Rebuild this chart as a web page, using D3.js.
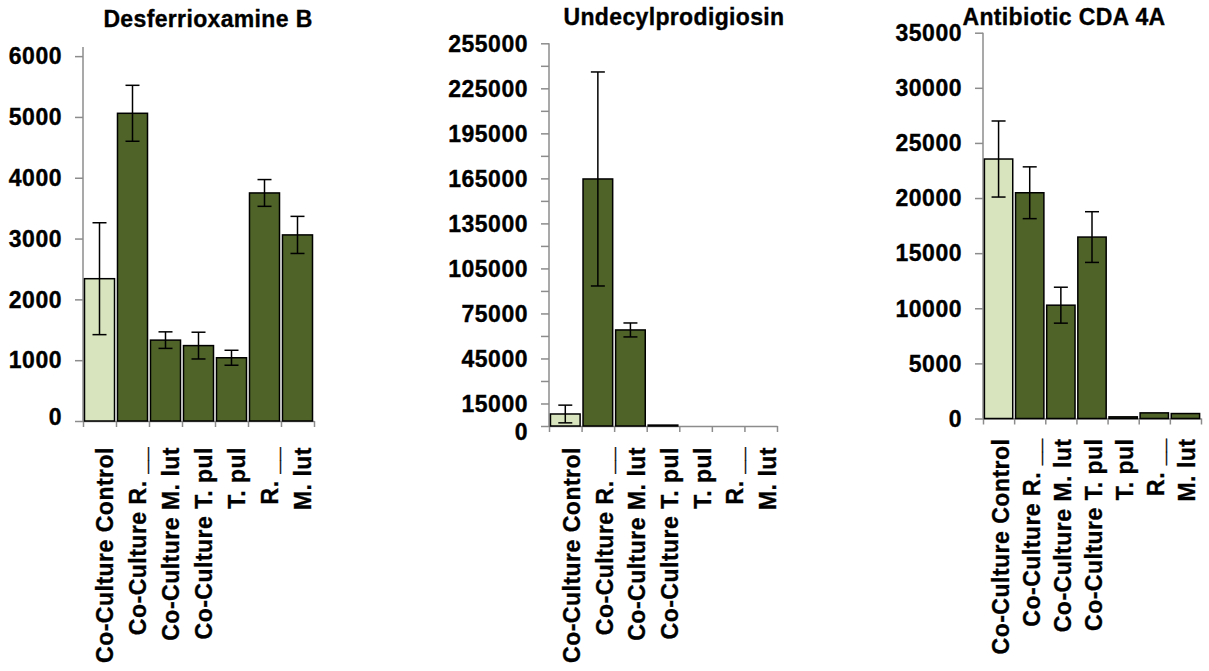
<!DOCTYPE html>
<html>
<head>
<meta charset="utf-8">
<script src="https://cdn.jsdelivr.net/npm/d3@7"></script>
<style>
  body { margin: 0; background: #fff; }
  text { font-family: "Liberation Sans", Arial, sans-serif; font-weight: bold; fill: #000; stroke: #000; stroke-width: 0.35px; }
</style>
</head>
<body>
<div id="charts"></div>
<script>
const categories = ["Co-Culture Control", "Co-Culture R. __", "Co-Culture M. lut", "Co-Culture T. pul", "T. pul", "R. __", "M. lut"];
const colorControl = "#d7e4bd";
const colorSample = "#4f6228";

const desferValues = [2340, 5060, 1330, 1240, 1040, 3750, 3060];
const desferErrors = [920, 460, 136, 220, 123, 220, 305];
const desferTicks = [0, 1000, 2000, 3000, 4000, 5000, 6000];

const undecylValues = [8000, 164600, 64000, 600, 0, 0, 0];
const undecylErrors = [5900, 71300, 4650, 0, 0, 0, 0];
const undecylTicks = d3.range(0, 255001, 15000);
const undecylLabels = [0, 15000, 45000, 75000, 105000, 135000, 165000, 195000, 225000, 255000];

const cdaValues = [23540, 20480, 10280, 16460, 150, 510, 450];
const cdaErrors = [3450, 2350, 1630, 2300, 0, 0, 0];
const cdaTicks = [0, 5000, 10000, 15000, 20000, 25000, 30000, 35000];

const width = 1209;
const height = 671;
const axisColor = "#8c8c8c";

var svg = d3.select("#charts").append("svg")
    .attr("width", width)
    .attr("height", height);

function drawChart(cfg) {
    const g = svg.append("g");

    const x = d3.scaleBand()
        .domain(categories)
        .range([cfg.left, cfg.right])
        .paddingInner(0.09)
        .paddingOuter(0.045);

    const y = d3.scaleLinear()
        .domain([0, cfg.max])
        .range([cfg.bottom, cfg.top]);

    // band boundaries for the category ticks
    const edge = d3.scaleLinear()
        .domain([0, categories.length])
        .range([cfg.left, cfg.right]);

    const yAxis = g.append("g")
        .attr("transform", `translate(${cfg.left},0)`)
        .call(d3.axisLeft(y)
            .tickValues(cfg.ticks)
            .tickSizeInner(8)
            .tickSizeOuter(0)
            .tickFormat(""));
    yAxis.select(".domain").attr("d", `M0,${y(0)}V${cfg.top}`);

    g.append("g")
        .attr("transform", `translate(0,${cfg.bottom})`)
        .call(d3.axisBottom(edge)
            .tickValues(d3.range(0, categories.length + 1))
            .tickSizeInner(6)
            .tickSizeOuter(0)
            .tickFormat(""));

    g.selectAll(".domain, .tick line")
        .attr("stroke", axisColor)
        .attr("stroke-width", 1.5);

    // y tick labels
    g.selectAll(".ylabel")
        .data(cfg.labels)
        .enter().append("text")
        .attr("class", "ylabel")
        .attr("x", cfg.left - 21)
        .attr("y", d => y(d) + (d === 0 ? cfg.zeroDy : 0))
        .attr("dy", "0.36em")
        .attr("text-anchor", "end")
        .style("font-size", "23px")
        .style("letter-spacing", "0.5px")
        .text(d => d);

    // bars
    g.selectAll(".bar")
        .data(cfg.values)
        .enter().append("rect")
        .attr("class", "bar")
        .attr("x", (d, i) => x(categories[i]))
        .attr("y", d => y(d))
        .attr("width", x.bandwidth())
        .attr("height", d => y(0) - y(d))
        .attr("fill", (d, i) => i === 0 ? colorControl : colorSample)
        .attr("stroke", d => d > 0 ? "#000" : "none")
        .attr("stroke-width", 1.5);

    // error bars
    const err = g.selectAll(".err")
        .data(cfg.values.map((v, i) => ({ v: v, e: cfg.errors[i], c: categories[i] })).filter(d => d.e > 0))
        .enter().append("g")
        .attr("class", "err")
        .attr("transform", d => `translate(${x(d.c) + x.bandwidth() / 2},0)`)
        .attr("stroke", "#000")
        .attr("stroke-width", 1.5);
    err.append("line")
        .attr("y1", d => y(d.v + d.e))
        .attr("y2", d => y(d.v - d.e));
    err.append("line")
        .attr("x1", -7).attr("x2", 7)
        .attr("y1", d => y(d.v + d.e))
        .attr("y2", d => y(d.v + d.e));
    err.append("line")
        .attr("x1", -7).attr("x2", 7)
        .attr("y1", d => y(d.v - d.e))
        .attr("y2", d => y(d.v - d.e));

    // category labels, rotated
    g.selectAll(".xlabel")
        .data(categories)
        .enter().append("text")
        .attr("class", "xlabel")
        .attr("transform", d => `translate(${x(d) + x.bandwidth() / 2},${cfg.bottom + cfg.labelGap}) rotate(-90)`)
        .attr("dy", cfg.labelShift)
        .attr("text-anchor", "end")
        .style("font-size", "23px")
        .style("letter-spacing", "0.5px")
        .text(d => d);

    g.append("text")
        .attr("x", cfg.titleX)
        .attr("y", cfg.titleY)
        .attr("text-anchor", "middle")
        .style("font-size", "23px")
        .style("letter-spacing", "0.35px")
        .text(cfg.title);
}

drawChart({
    title: "Desferrioxamine B", titleX: 208, titleY: 27,
    values: desferValues, errors: desferErrors, ticks: desferTicks, labels: desferTicks,
    max: 6150, left: 83, right: 314, top: 47, bottom: 421,
    labelGap: 26, labelShift: 13, zeroDy: -4
});

drawChart({
    title: "Undecylprodigiosin", titleX: 674, titleY: 25,
    values: undecylValues, errors: undecylErrors, ticks: undecylTicks, labels: undecylLabels,
    max: 255000, left: 549, right: 777, top: 43.3, bottom: 426,
    labelGap: 21, labelShift: 15, zeroDy: 6
});

drawChart({
    title: "Antibiotic CDA 4A", titleX: 1064, titleY: 25,
    values: cdaValues, errors: cdaErrors, ticks: cdaTicks, labels: cdaTicks,
    max: 35000, left: 983, right: 1201, top: 32.7, bottom: 418.5,
    labelGap: 20, labelShift: 10, zeroDy: 0
});
</script>
</body>
</html>
